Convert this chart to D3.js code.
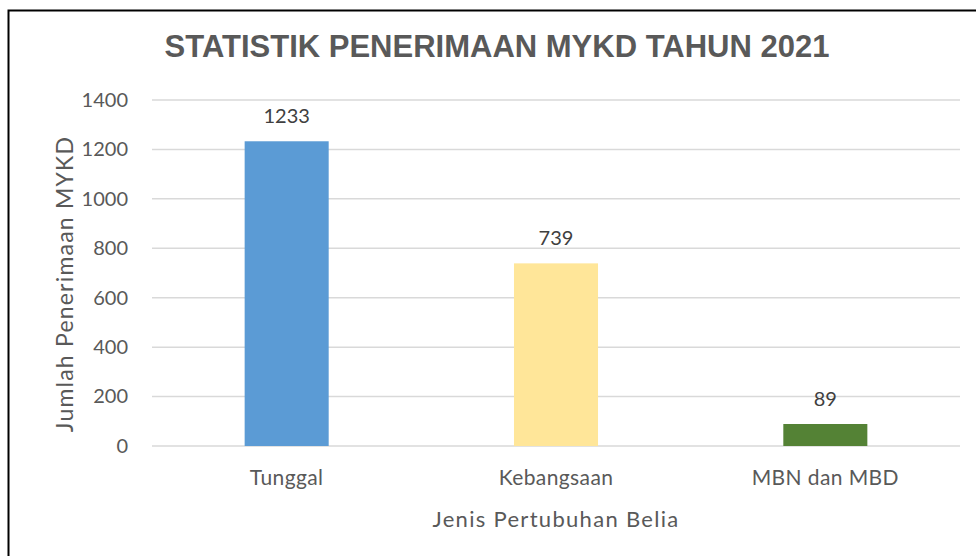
<!DOCTYPE html>
<html>
<head>
<meta charset="utf-8">
<script src="https://cdn.jsdelivr.net/npm/d3@7"></script>
<style>
  html, body { margin: 0; padding: 0; background: #fff; }
  svg { display: block; }
</style>
</head>
<body>
<svg id="chart" width="976" height="556"></svg>
<script>
const categories = ["Tunggal", "Kebangsaan", "MBN dan MBD"];
const values = [1233, 739, 89];
const barColors = ["#5B9BD5", "#FFE699", "#548235"];
const yTicks = [0, 200, 400, 600, 800, 1000, 1200, 1400];
const chartTitle = "STATISTIK PENERIMAAN MYKD TAHUN 2021";
const xTitle = "Jenis Pertubuhan Belia";
const yTitle = "Jumlah Penerimaan MYKD";

const svg = d3.select("#chart");
const W = 976, H = 556;
const margin = { top: 100, right: 16, bottom: 110, left: 152 };
const innerW = W - margin.left - margin.right;
const innerH = H - margin.top - margin.bottom;
const textColor = "#595959";
const bodyFont = "Lato, 'Open Sans', sans-serif";

// chart frame
svg.append("rect")
  .attr("x", 8.5).attr("y", 10.5)
  .attr("width", 1000).attr("height", 600)
  .attr("fill", "#fff")
  .attr("stroke", "#000").attr("stroke-width", 2);

const g = svg.append("g").attr("transform", `translate(${margin.left},${margin.top})`);

const x = d3.scaleBand().domain(categories).range([0, innerW]).paddingInner(0.688).paddingOuter(0.344);
const y = d3.scaleLinear().domain([0, 1400]).range([innerH, 0]);

// gridlines
g.append("g")
  .selectAll("line")
  .data(yTicks)
  .join("line")
  .attr("x1", 0).attr("x2", innerW)
  .attr("y1", d => y(d)).attr("y2", d => y(d))
  .attr("stroke", "#D9D9D9").attr("stroke-width", 1.5);

// y axis labels
const yAxis = g.append("g").call(
  d3.axisLeft(y).tickValues(yTicks).tickFormat(d3.format("d")).tickSize(0).tickPadding(24)
);
yAxis.select(".domain").remove();
yAxis.selectAll("text")
  .attr("fill", textColor)
  .style("font-family", bodyFont)
  .style("font-size", "20px");

// bars
g.selectAll("rect.bar")
  .data(values)
  .join("rect")
  .attr("class", "bar")
  .attr("x", (d, i) => x(categories[i]))
  .attr("width", x.bandwidth())
  .attr("y", d => y(d))
  .attr("height", d => innerH - y(d))
  .attr("fill", (d, i) => barColors[i]);

// value labels
g.selectAll("text.val")
  .data(values)
  .join("text")
  .attr("class", "val")
  .attr("x", (d, i) => x(categories[i]) + x.bandwidth() / 2)
  .attr("y", d => y(d) - 18)
  .attr("text-anchor", "middle")
  .attr("fill", "#404040")
  .style("font-family", bodyFont)
  .style("font-size", "20px")
  .text(d => d);

// x axis labels
const xAxis = g.append("g")
  .attr("transform", `translate(0,${innerH})`)
  .call(d3.axisBottom(x).tickSize(0).tickPadding(24));
xAxis.select(".domain").remove();
xAxis.selectAll("text")
  .attr("fill", textColor)
  .style("font-family", bodyFont)
  .style("font-size", "21px")
  .style("letter-spacing", "0.4px");

// title
svg.append("text")
  .attr("x", 497).attr("y", 57)
  .attr("text-anchor", "middle")
  .attr("fill", textColor)
  .style("font-family", "'Liberation Sans', Arial, sans-serif")
  .style("font-weight", "bold")
  .style("font-size", "31px")
  .text(chartTitle);

// axis titles
svg.append("text")
  .attr("x", margin.left + innerW / 2).attr("y", 527)
  .attr("text-anchor", "middle")
  .attr("fill", textColor)
  .style("font-family", bodyFont)
  .style("font-size", "22px")
  .style("letter-spacing", "1.3px")
  .text(xTitle);

svg.append("text")
  .attr("transform", "translate(73,284) rotate(-90)")
  .attr("text-anchor", "middle")
  .attr("fill", textColor)
  .style("font-family", bodyFont)
  .style("font-size", "23px")
  .style("letter-spacing", "1.2px")
  .text(yTitle);
</script>
</body>
</html>
